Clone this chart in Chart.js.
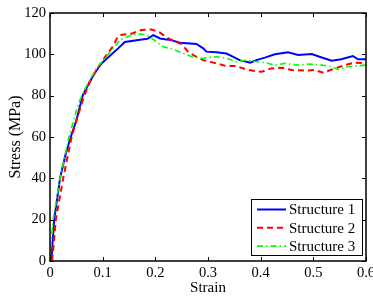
<!DOCTYPE html>
<html>
<head>
<meta charset="utf-8">
<script src="https://cdn.jsdelivr.net/npm/chart.js@4.4.1/dist/chart.umd.min.js"></script>
<style>
  body { margin: 0; background: #fff; }
  canvas { display: block; }
</style>
</head>
<body>
<canvas id="mygraph" width="373" height="296"></canvas>
<script>
// values
var seriesNames = ["Structure 1", "Structure 2", "Structure 3"];

var strain1 = [0, 0.003, 0.008, 0.019, 0.03, 0.04, 0.05, 0.062, 0.074, 0.085, 0.098, 0.108, 0.117, 0.13, 0.142, 0.155, 0.171, 0.185, 0.196, 0.209, 0.221, 0.228, 0.247, 0.266, 0.278, 0.291, 0.297, 0.316, 0.335, 0.348, 0.36, 0.38, 0.392, 0.408, 0.427, 0.452, 0.471, 0.497, 0.516, 0.535, 0.553, 0.575, 0.585, 0.6];
var stress1 = [0, 2, 20, 40, 52, 60.5, 68, 80, 86, 91, 95.6, 98, 100, 103, 106, 106.5, 107, 107.5, 109.3, 107.7, 107.2, 107, 105.6, 105.3, 105, 102.9, 101.3, 101, 100.4, 98.8, 97.2, 96, 97.2, 98.4, 100, 101, 99.7, 100.1, 98.5, 96.9, 97.6, 99.2, 97.6, 97.6];

var strain2 = [0.004, 0.007, 0.011, 0.025, 0.041, 0.055, 0.065, 0.078, 0.09, 0.1, 0.108, 0.12, 0.127, 0.133, 0.155, 0.174, 0.193, 0.209, 0.221, 0.234, 0.25, 0.262, 0.275, 0.291, 0.31, 0.335, 0.354, 0.373, 0.389, 0.402, 0.42, 0.44, 0.459, 0.484, 0.503, 0.519, 0.541, 0.56, 0.579, 0.6];
var stress2 = [0, 8, 20, 40, 60, 72, 80, 88, 93, 97, 100, 104, 107.7, 109.3, 110, 111.8, 112, 110.5, 108.2, 106.6, 105, 101.3, 99.2, 97.2, 96, 94.3, 94.3, 92.7, 91.9, 91.6, 93.2, 93.5, 92.4, 92.1, 92.4, 91.1, 93.2, 94.8, 96, 95.6];

var strain3 = [0, 0.001, 0.006, 0.019, 0.036, 0.054, 0.066, 0.079, 0.09, 0.101, 0.117, 0.133, 0.155, 0.174, 0.185, 0.196, 0.215, 0.234, 0.253, 0.272, 0.291, 0.316, 0.335, 0.354, 0.373, 0.392, 0.408, 0.427, 0.446, 0.471, 0.49, 0.516, 0.535, 0.547, 0.566, 0.585, 0.6];
var stress3 = [0, 5, 20, 40, 60, 76.3, 83, 89.2, 94, 97.2, 102, 107, 109.3, 109.8, 109, 107.2, 103.7, 102.4, 100.5, 98.6, 98.1, 98.8, 98.1, 96.4, 97.2, 96.4, 96, 94.8, 95.6, 94.8, 95.3, 94.8, 94, 92.7, 94, 94.5, 94.8];

var xTicks = [0, 0.1, 0.2, 0.3, 0.4, 0.5, 0.6];
var yTicks = [0, 20, 40, 60, 80, 100, 120];

function toPoints(xs, ys) {
    return xs.map(function(x, i) { return { x: x, y: ys[i] }; });
}

var serif = "'Liberation Serif', 'Times New Roman', serif";

// matlab style box, inward ticks and legend inside the axes
var boxPlugin = {
    id: "box",
    afterDraw: function(chart) {
        var c = chart.ctx;
        var a = chart.chartArea;
        var xs = chart.scales.x, ys = chart.scales.y;
        c.save();
        c.strokeStyle = "#000";
        c.lineWidth = 1.5;
        c.setLineDash([]);
        c.strokeRect(a.left, a.top, a.right - a.left, a.bottom - a.top);
        c.lineWidth = 1;
        c.beginPath();
        xTicks.forEach(function(v) {
            var px = Math.round(xs.getPixelForValue(v)) + 0.5;
            c.moveTo(px, a.bottom); c.lineTo(px, a.bottom - 4);
            c.moveTo(px, a.top); c.lineTo(px, a.top + 4);
        });
        yTicks.forEach(function(v) {
            var py = Math.round(ys.getPixelForValue(v)) + 0.5;
            c.moveTo(a.left, py); c.lineTo(a.left + 4, py);
            c.moveTo(a.right, py); c.lineTo(a.right - 4, py);
        });
        c.stroke();

        // legend
        var lx = 251, ly = 199, lw = 111, lh = 56;
        c.fillStyle = "#fff";
        c.fillRect(lx, ly, lw, lh);
        c.strokeStyle = "#000";
        c.lineWidth = 1;
        c.strokeRect(lx + 0.5, ly + 0.5, lw, lh);
        c.font = "15px " + serif;
        c.textBaseline = "middle";
        c.textAlign = "left";
        chart.data.datasets.forEach(function(ds, i) {
            var yy = ly + 10.5 + i * 18.3;
            c.strokeStyle = ds.borderColor;
            c.lineWidth = ds.borderWidth;
            c.setLineDash(ds.borderDash || []);
            c.beginPath();
            c.moveTo(lx + 6, yy);
            c.lineTo(lx + 35, yy);
            c.stroke();
            c.setLineDash([]);
            c.fillStyle = "#000";
            c.fillText(ds.label, lx + 38, yy + 1);
        });
        c.restore();
    }
};

var ctx = document.getElementById("mygraph").getContext("2d");

var chart = new Chart(ctx, {
    type: "line",
    data: {
        datasets: [{
            label: seriesNames[0],
            data: toPoints(strain1, stress1),
            borderColor: "#0000ff",
            borderWidth: 2,
            order: 3,
        }, {
            label: seriesNames[1],
            data: toPoints(strain2, stress2),
            borderColor: "#ff0000",
            borderWidth: 2,
            borderDash: [6, 4],
            order: 2,
        }, {
            label: seriesNames[2],
            data: toPoints(strain3, stress3),
            borderColor: "#00ff00",
            borderWidth: 1.6,
            borderDash: [6, 3, 1.5, 3],
            order: 1,
        }, ],
    },
    options: {
        responsive: false,
        animation: false,
        events: [],
        layout: { padding: { top: 13, right: 7, left: 0, bottom: 0 } },
        elements: {
            point: { radius: 0 },
            line: { tension: 0, fill: false },
        },
        plugins: {
            legend: { display: false },
            tooltip: { enabled: false },
        },
        scales: {
            x: {
                type: "linear",
                min: 0,
                max: 0.6,
                grid: { display: false, drawTicks: false, tickLength: 0 },
                border: { display: false },
                afterBuildTicks: function(scale) {
                    scale.ticks = xTicks.map(function(v) { return { value: v }; });
                },
                afterFit: function(scale) {
                    scale.height = 35;
                    scale.paddingLeft = 0;
                    scale.paddingRight = 0;
                },
                ticks: {
                    color: "#000",
                    padding: 3,
                    maxRotation: 0,
                    font: { family: serif, size: 14.5 },
                    callback: function(v) { return v === 0 ? "0" : String(v); },
                },
                title: {
                    display: true,
                    text: "Strain",
                    color: "#000",
                    padding: { top: 0, bottom: 0 },
                    font: { family: serif, size: 15, lineHeight: 1 },
                },
            },
            y: {
                type: "linear",
                min: 0,
                max: 120,
                grid: { display: false, drawTicks: false, tickLength: 0 },
                border: { display: false },
                afterBuildTicks: function(scale) {
                    scale.ticks = yTicks.map(function(v) { return { value: v }; });
                },
                afterFit: function(scale) {
                    scale.width = 50;
                    scale.paddingTop = 0;
                    scale.paddingBottom = 0;
                },
                ticks: {
                    color: "#000",
                    padding: 4,
                    font: { family: serif, size: 14.5 },
                },
                title: {
                    display: true,
                    text: "Stress (MPa)",
                    color: "#000",
                    padding: { top: 8, bottom: 0 },
                    font: { family: serif, size: 16, lineHeight: 1 },
                },
            },
        },
    },
    plugins: [boxPlugin],
});
</script>
</body>
</html>
